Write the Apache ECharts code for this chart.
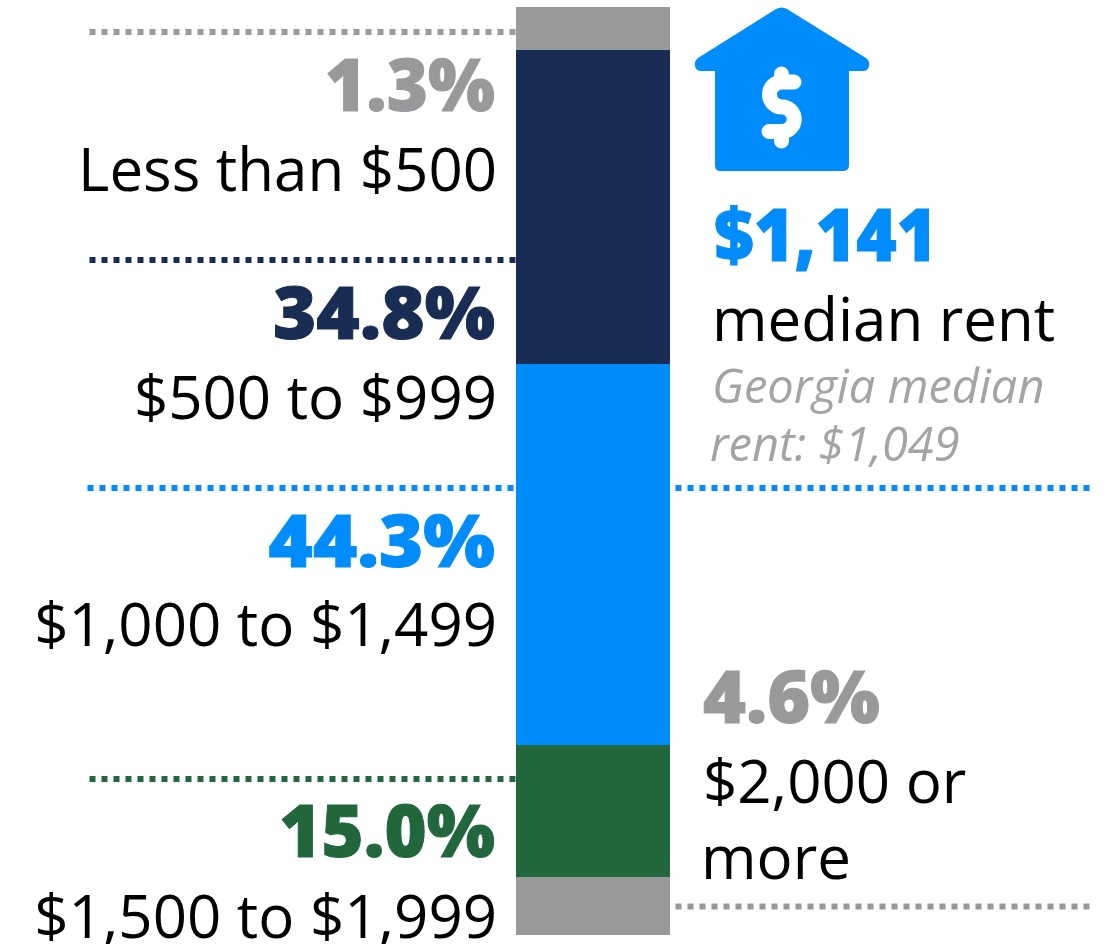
<!DOCTYPE html>
<html>
<head>
<meta charset="utf-8">
<style>html,body{margin:0;padding:0;background:#fff}#c{width:1110px;height:944px}</style>
<script src="https://cdn.jsdelivr.net/npm/echarts@6/dist/echarts.min.js"></script>
</head>
<body>
<div id="c"></div>
<script>
// Rent bands, top of the column to the bottom
const bands = ['Less than $500', '$500 to $999', '$1,000 to $1,499', '$1,500 to $1,999', '$2,000 or more'];
// Printed shares
const shareLabels = ['1.3%', '34.8%', '44.3%', '15.0%', '4.6%'];
// Segment lengths (percent of column height)
const columnLengths = [4.63, 33.84, 41.06, 14.22, 6.25];
const medianRent = '$1,141';
const georgiaRent = '$1,049';

const GRAY = '#98999b', NAVY = '#182c54', BLUE = '#008cfa', GREEN = '#22673c';
const colours = [GRAY, NAVY, BLUE, GREEN, GRAY];
const FONT = '"Open Sans", "Noto Sans", sans-serif';
const BIGFONT = '"Noto Sans", "Open Sans", sans-serif';
const BIG = 72, MID = 60, SMALL = 47;

const chart = echarts.init(document.getElementById('c'), null, {renderer: 'canvas'});

function txt(text, x, y, size, fill, align, family) {
  return {type: 'text', x, y, silent: true, style: {
    text, fill, textAlign: align, textVerticalAlign: 'middle',
    fontFamily: family || FONT, fontSize: size, fontWeight: 400
  }};
}
function big(text, x, y, fill, align, stretch) {
  const t = txt(text, x, y, BIG, fill, align, BIGFONT);
  t.style.fontWeight = 900;
  t.style.stroke = fill;
  t.style.lineWidth = 1;
  t.scaleX = stretch;
  return t;
}
function ital(text, x, y) {
  const t = txt(text, x, y, SMALL, '#a3a4a6', 'left');
  t.style.fontStyle = 'italic';
  return t;
}
function dots(x1, x2, y, stroke) {
  return {type: 'line', silent: true, shape: {x1, y1: y, x2, y2: y},
    style: {stroke, lineWidth: 6, lineDash: [6, 6]}};
}

const bar = bands.map((name, i) => ({
  name, type: 'bar', stack: 'rent', barWidth: '100%', silent: true,
  itemStyle: {color: colours[i]}, data: [columnLengths[i]]
})).reverse();

const icon = {
  type: 'custom', coordinateSystem: 'none', silent: true, data: [0],
  renderItem: () => ({type: 'group', children: [
    {type: 'path', shape: {pathData:
      'M776 9 Q781.5 6 787 9 L866 58 Q870 61 869 66 Q868 71 863 71 L849 71 L849 165 Q849 171 843 171 L720 171 Q715 171 715 165 L715 71 L701 71 Q696 71 695 66 Q694 61 698 58 Z'},
      style: {fill: BLUE}},
    {type: 'path', shape: {pathData:
      'M794 82 H782 A12.5 12.5 0 0 0 782 107 A12.2 12.2 0 0 1 782 131.5 H769 M781.5 74 V82 M781.5 131.5 V141'},
      style: {fill: 'none', stroke: '#fff', lineWidth: 15, lineCap: 'round', lineJoin: 'round'}}
  ]})
};

const leftX = 495, bandX = 497;
chart.setOption({
  animation: false,
  grid: {left: 516, top: 7, width: 154, height: 928},
  xAxis: {type: 'category', data: ['Rent'], show: false},
  yAxis: {type: 'value', min: 0, max: 100, show: false},
  series: [...bar, icon],
  graphic: {elements: [
    dots(89.5, 516, 32, GRAY),
    dots(89.5, 516, 260, NAVY),
    dots(87.5, 514, 488, BLUE),
    dots(675.5, 1090, 488, BLUE),
    dots(89.5, 516, 779, GREEN),
    dots(675.5, 1090, 906.5, GRAY),

    big(shareLabels[0], leftX, 90, GRAY, 'right', 0.98),
    txt(bands[0], bandX, 174, MID, '#000', 'right'),
    big(shareLabels[1], leftX, 318, NAVY, 'right', 1.03),
    txt(bands[1], bandX, 402, MID, '#000', 'right'),
    big(shareLabels[2], leftX, 546, BLUE, 'right', 1.05),
    txt(bands[2], bandX, 629, MID, '#000', 'right'),
    big(shareLabels[3], leftX, 836, GREEN, 'right', 1.0),
    txt(bands[3], bandX, 921, MID, '#000', 'right'),

    big(medianRent, 714, 240, BLUE, 'left', 0.96),
    txt('median rent', 712, 324, MID, '#000', 'left'),
    ital('Georgia median', 712, 390),
    ital('rent: ' + georgiaRent, 710, 448),

    big(shareLabels[4], 703, 702, GRAY, 'left', 1.02),
    txt('$2,000 or', 703, 786, MID, '#000', 'left'),
    txt('more', 701, 862, MID, '#000', 'left')
  ]}
});
</script>
</body>
</html>
